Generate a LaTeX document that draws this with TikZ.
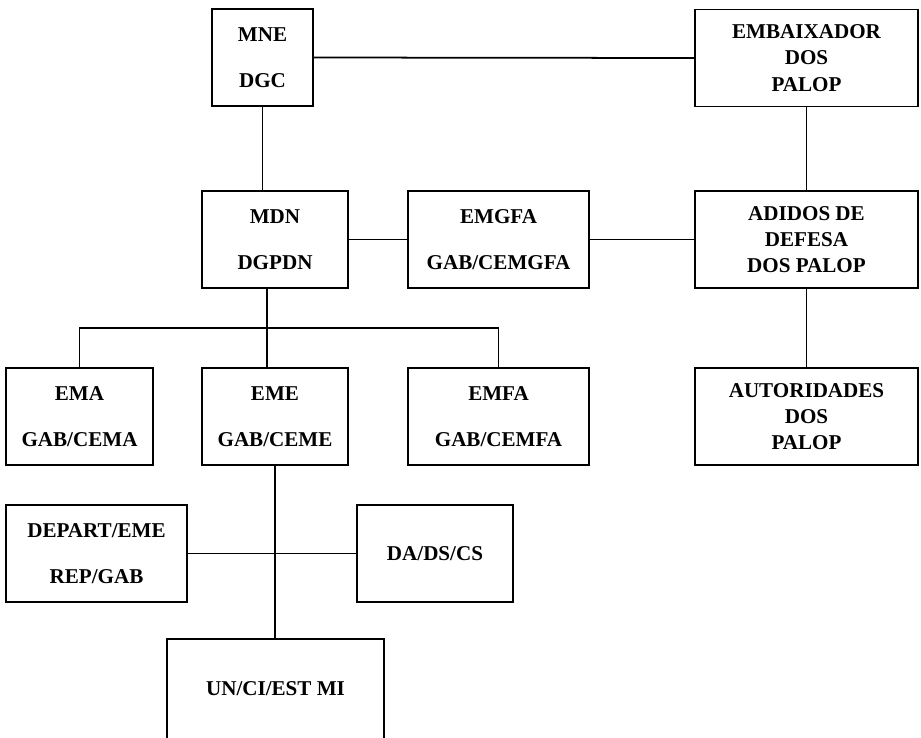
\documentclass[tikz,border=0pt]{standalone}
\usepackage{fontspec}
\setmainfont{Liberation Serif}
\usepackage{tikz}

\begin{document}
\begin{tikzpicture}[line width = 1pt,
              orgbox/.style = {draw, minimum height = 1.94cm, align = center, inner sep = 0pt,
                               font = \fontsize{12}{15}\selectfont\bfseries},
              openbox/.style = {orgbox, draw = none}]
              \useasboundingbox (0, 0) rectangle (18.42, -14.74);
              \node [orgbox, minimum width = 2.02cm] (mne) at (5.25, -1.15) {MNE\\[11pt]DGC};
              \node [orgbox, minimum width = 4.46cm] (emb) at (16.13, -1.16) {EMBAIXADOR\\DOS\\PALOP};
              \node [orgbox, minimum width = 2.92cm] (mdn) at (5.5, -4.79) {MDN\\[11pt]DGPDN};
              \node [orgbox, minimum width = 3.62cm] (emgfa) at (9.97, -4.79) {EMGFA\\[11pt]GAB/CEMGFA};
              \node [orgbox, minimum width = 4.46cm] (adidos) at (16.13, -4.79) {ADIDOS DE\\DEFESA\\DOS PALOP};
              \node [orgbox, minimum width = 2.94cm] (ema) at (1.59, -8.33) {EMA\\[11pt]GAB/CEMA};
              \node [orgbox, minimum width = 2.92cm] (eme) at (5.5, -8.33) {EME\\[11pt]GAB/CEME};
              \node [orgbox, minimum width = 3.62cm] (emfa) at (9.97, -8.33) {EMFA\\[11pt]GAB/CEMFA};
              \node [orgbox, minimum width = 4.46cm] (aut) at (16.13, -8.33) {AUTORIDADES\\DOS\\PALOP};
              \node [orgbox, minimum width = 3.62cm] (depart) at (1.93, -11.07) {DEPART/EME\\[11pt]REP/GAB};
              \node [orgbox, minimum width = 3.12cm] (dads) at (8.70, -11.07) {DA/DS/CS};
              \node [openbox, minimum width = 4.30cm, minimum height = 1.96cm] (un) at (5.51, -13.78) {UN/CI/EST MI};
              \draw (un.south west) -- (un.north west) -- (un.north east) -- (un.south east);
              \coordinate (bus) at (5.34, -6.56);
              \draw (mne.east) -- (emb.west);
              \draw (mne.south) -- (mne.south |- mdn.north);
              \draw (mdn.east) -- (emgfa.west);
              \draw (emgfa.east) -- (adidos.west);
              \draw (emb.south) -- (adidos.north);
              \draw (adidos.south) -- (aut.north);
              \draw (bus |- mdn.south) -- (bus) -- (bus |- eme.north);
              \draw (ema.north) -- (ema.north |- bus) -- (emfa.north |- bus) -- (emfa.north);
              \draw (eme.south) -- (eme.south |- un.north);
              \draw (depart.east) -- (dads.west);
            \end{tikzpicture}
\end{document}
